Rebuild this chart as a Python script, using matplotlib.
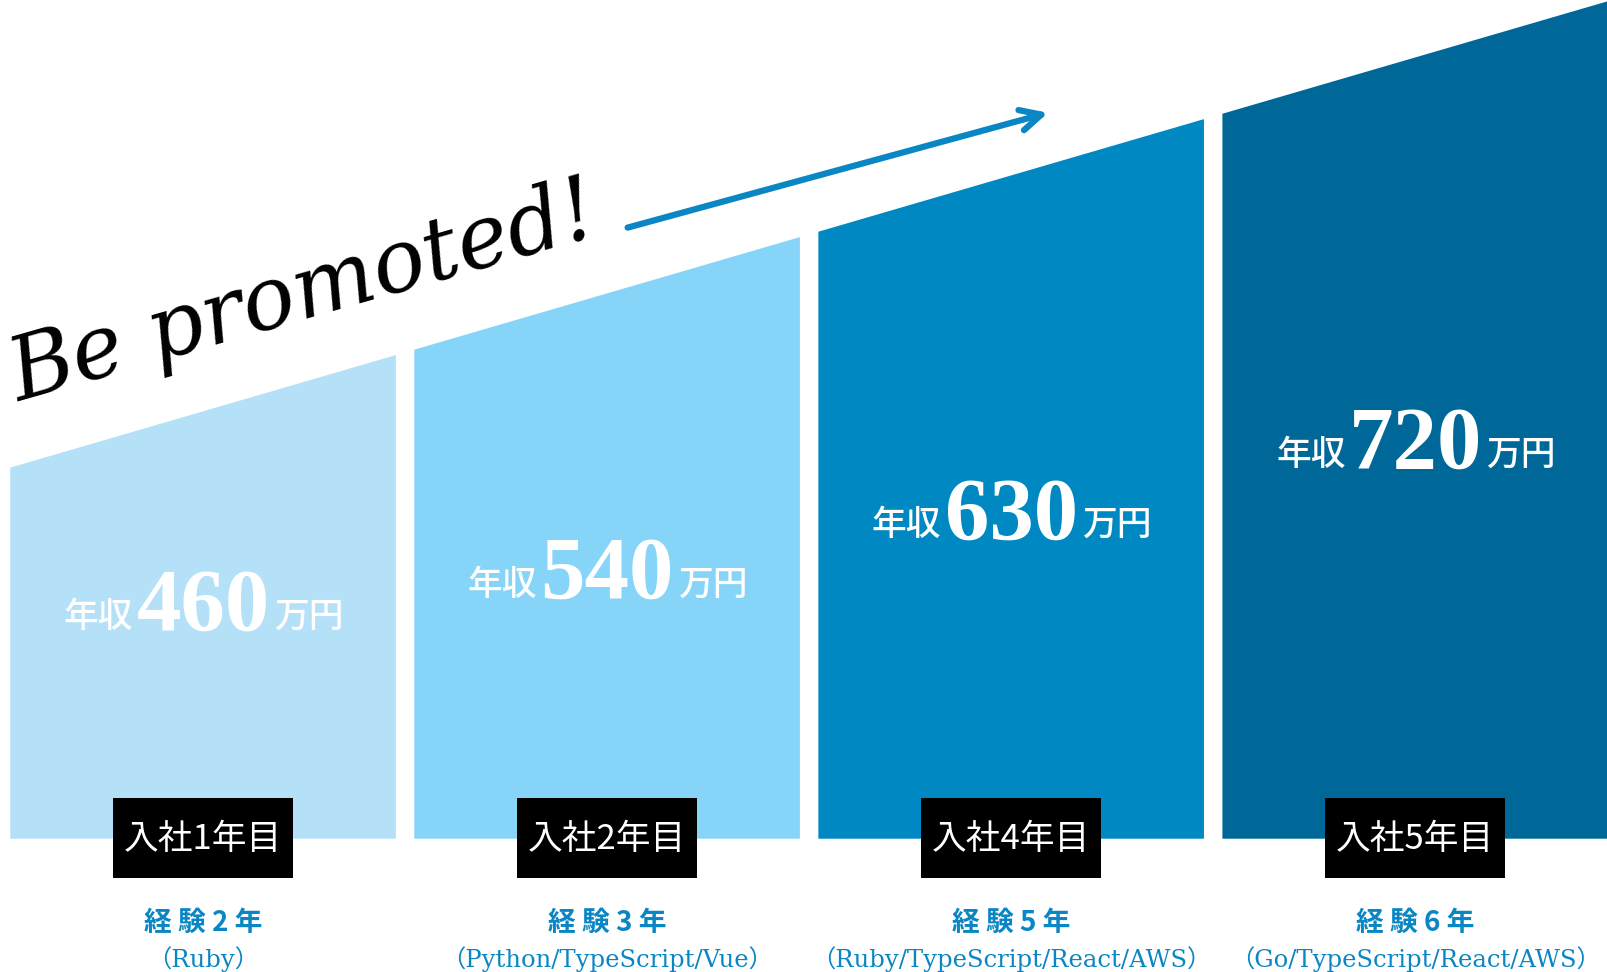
import numpy as np
import matplotlib.pyplot as plt
from matplotlib.patches import Polygon, Rectangle

# data
salaries = [460, 540, 630, 720]
join_years = ["入社1年目", "入社2年目", "入社4年目", "入社5年目"]
experience = ["経験2年", "経験3年", "経験5年", "経験6年"]
stacks = ["（Ruby）", "（Python/TypeScript/Vue）",
          "（Ruby/TypeScript/React/AWS）", "（Go/TypeScript/React/AWS）"]
bar_colors = ["#b5e1f8", "#87d4f9", "#0088c2", "#006898"]

# layout (canvas units, y grows downwards)
W, H = 1568, 948
bar_left, bar_step, bar_w = 10, 394, 376
base_y = 818
top_at = lambda x: 459 - 0.292 * x   # slanted roof across all bars
label_base = [614, 583, 525, 456]
blue = "#0a86c4"
jp = ["Noto Sans CJK JP", "DejaVu Sans"]
serif = ["DejaVu Serif", "Noto Sans CJK JP"]

fig = plt.figure(figsize=(16.08, 9.72), dpi=100)
ax = fig.add_axes([0, 0, 1, 1])
ax.set_xlim(0, W)
ax.set_ylim(H, 0)
ax.axis("off")

for i, sal in enumerate(salaries):
    x0 = bar_left + i * bar_step
    x1 = x0 + bar_w
    cx = (x0 + x1) / 2
    ax.add_patch(Polygon([(x0, base_y), (x0, top_at(x0)), (x1, top_at(x1)), (x1, base_y)],
                         closed=True, facecolor=bar_colors[i], edgecolor="none"))

    # salary label
    yb = label_base[i]
    ax.text(cx, yb, str(sal), color="white", family="Liberation Serif",
            fontsize=64, fontweight="bold", ha="center", va="baseline")
    ax.text(cx - 68, yb - 3, "年収", color="white", family=jp,
            fontsize=25, fontweight="medium", ha="right", va="baseline")
    ax.text(cx + 69, yb - 3, "万円", color="white", family=jp,
            fontsize=25, fontweight="medium", ha="left", va="baseline")

    # black tag
    ax.add_patch(Rectangle((cx - 88, 778), 176, 78, facecolor="black", edgecolor="none"))
    ax.text(cx, 819, join_years[i], color="white", family=jp,
            fontsize=25, ha="center", va="center")

    ax.text(cx, 900, " ".join(experience[i]), color=blue, family=jp,
            fontsize=20, fontweight="bold", ha="center", va="center")
    ax.text(cx, 935, stacks[i], color=blue, family=serif,
            fontsize=17.5, ha="center", va="center")

# handwritten headline and arrow
ax.text(18, 392, "Be promoted!", family="DejaVu Serif", style="italic",
        fontsize=63, color="black", rotation=16, ha="left", va="baseline",
        rotation_mode="anchor")
ax.annotate("", xy=(1022, 110), xytext=(612, 222),
            arrowprops=dict(arrowstyle="->,head_length=1.5,head_width=0.75",
                            lw=4.5, color="#0a86c4", shrinkA=0, shrinkB=0))

fig.savefig("out.png", dpi=100)
